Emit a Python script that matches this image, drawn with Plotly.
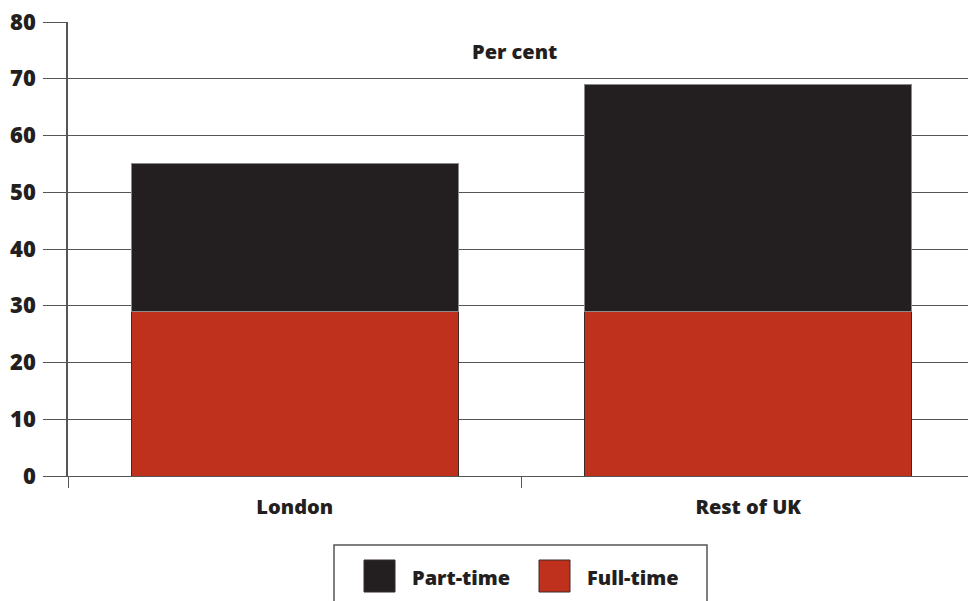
import plotly.graph_objects as go

# Share of workers, per cent
regions = ["London", "Rest of UK"]
full_time = [29, 29]
part_time = [26, 40]
series_names = ["Full-time", "Part-time"]
y_ticks = [0, 10, 20, 30, 40, 50, 60, 70, 80]

RED = "#bf311c"
BLACK = "#231f20"
FONT = "Open Sans"
WEIGHT = 800

fig = go.Figure()
fig.add_trace(go.Bar(
    x=regions, y=full_time, name=series_names[0],
    marker=dict(color=RED, line=dict(color="#3a2a28", width=1)),
))
fig.add_trace(go.Bar(
    x=regions, y=part_time, name=series_names[1],
    marker=dict(color=BLACK, line=dict(color="#8a8a8a", width=1)),
))

fig.update_layout(
    width=968, height=601,
    barmode="stack", bargap=0.28,
    plot_bgcolor="white", paper_bgcolor="white",
    margin=dict(l=68, r=0, t=22, b=125),
    showlegend=False,
    font=dict(family=FONT, color="#231f20"),
)

fig.update_yaxes(
    range=[0, 80], tickvals=y_ticks,
    ticks="outside", ticklen=23, tickcolor="#555555", tickwidth=1,
    showgrid=True, gridcolor="#555555", gridwidth=1,
    zeroline=False,
    showline=True, linecolor="#555555", linewidth=1.5,
    tickfont=dict(family=FONT, size=22, color="#231f20", weight=WEIGHT),
    ticklabelstandoff=3,
)
fig.update_xaxes(
    range=[-0.5, 1.4846],
    ticks="outside", tickson="boundaries", ticklen=11,
    tickcolor="#555555", tickwidth=1,
    showline=True, linecolor="#555555", linewidth=1,
    tickfont=dict(family=FONT, size=20, color="#231f20", weight=WEIGHT),
    ticklabelstandoff=13,
)

fig.add_annotation(
    text="Per cent", xref="paper", yref="paper",
    x=(514 - 68) / 900, y=(601 - 125 - 52) / 454,
    showarrow=False, xanchor="center", yanchor="middle",
    font=dict(family=FONT, size=20, color="#231f20", weight=WEIGHT),
)

# Legend box drawn below the plot area
def px_x(px):
    return (px - 68) / 900

def px_y(py):
    return (476 - py) / 454

fig.add_shape(type="rect", xref="paper", yref="paper",
              x0=px_x(334), x1=px_x(707), y0=px_y(610), y1=px_y(545),
              line=dict(color="#555555", width=1.5), fillcolor="white")

legend_items = [(series_names[1], BLACK, 364, 410), (series_names[0], RED, 539, 585)]
for name, color, sx, tx in legend_items:
    fig.add_shape(type="rect", xref="paper", yref="paper",
                  x0=px_x(sx), x1=px_x(sx + 31), y0=px_y(592), y1=px_y(560),
                  line=dict(color="#3a2a28", width=1), fillcolor=color)
    fig.add_annotation(text=name, xref="paper", yref="paper",
                       x=px_x(tx), y=px_y(577), showarrow=False,
                       xanchor="left", yanchor="middle",
                       font=dict(family=FONT, size=20, color="#231f20", weight=WEIGHT))

fig.write_html("out.html")
